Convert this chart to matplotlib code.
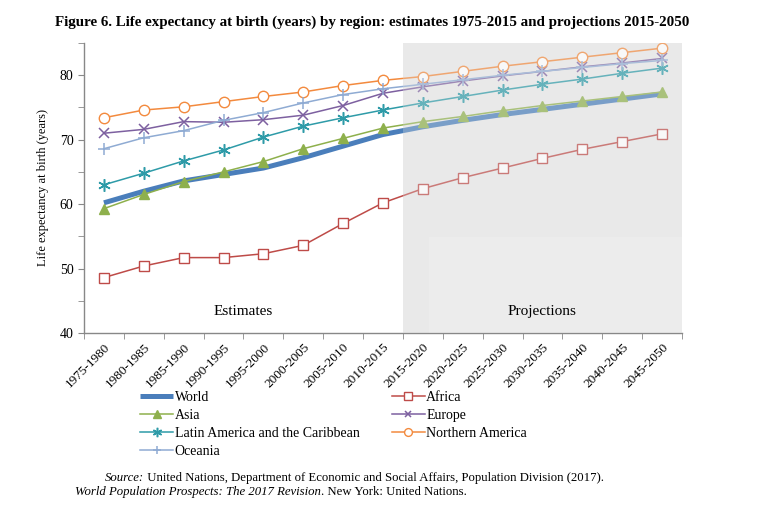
import numpy as np
import matplotlib
matplotlib.use("Agg")
import matplotlib.pyplot as plt
from matplotlib.patches import Rectangle

plt.rcParams['font.family'] = ['Liberation Serif', 'DejaVu Serif']

# periods (x categories)
periods = ["1975-1980", "1980-1985", "1985-1990", "1990-1995", "1995-2000",
           "2000-2005", "2005-2010", "2010-2015", "2015-2020", "2020-2025",
           "2025-2030", "2030-2035", "2035-2040", "2040-2045", "2045-2050"]

# life expectancy at birth (years)
world = [60.2, 62.0, 63.6, 64.6, 65.6, 67.2, 69.0, 70.8, 72.0, 73.0, 73.9, 74.7, 75.5, 76.3, 77.1]
africa = [48.6, 50.4, 51.7, 51.7, 52.3, 53.6, 57.0, 60.2, 62.4, 64.1, 65.6, 67.1, 68.5, 69.7, 70.9]
asia = [59.3, 61.5, 63.5, 65.0, 66.6, 68.6, 70.2, 71.8, 72.8, 73.6, 74.5, 75.3, 76.0, 76.7, 77.4]
europe = [71.0, 71.6, 72.8, 72.7, 73.1, 73.8, 75.3, 77.2, 78.2, 79.1, 79.9, 80.6, 81.3, 81.9, 82.6]
latam = [63.0, 64.8, 66.7, 68.4, 70.4, 72.1, 73.4, 74.6, 75.7, 76.7, 77.7, 78.6, 79.4, 80.3, 81.1]
n_america = [73.4, 74.6, 75.1, 75.9, 76.7, 77.4, 78.4, 79.2, 79.8, 80.6, 81.4, 82.1, 82.8, 83.5, 84.2]
oceania = [68.6, 70.3, 71.4, 73.0, 74.2, 75.7, 77.0, 77.9, 78.6, 79.3, 80.0, 80.6, 81.2, 81.8, 82.3]

n_estimates = 8  # first 8 periods are estimates

x = np.arange(len(periods))

fig = plt.figure(figsize=(7.58, 5.18), dpi=100)
ax = fig.add_axes([84/758, 1 - 333/518, (682 - 84)/758, (333 - 43)/518])

shade = "#E9E9E9"
# projections background
ax.add_patch(Rectangle((n_estimates - 0.5, 40), len(periods) - n_estimates, 45,
                       facecolor=shade, edgecolor="none", zorder=0))
ax.add_patch(Rectangle((n_estimates - 0.5 + 0.65, 40), len(periods) - n_estimates - 0.65, 14.9,
                       facecolor="#EEEEEE", edgecolor="none", zorder=0.5))

ax.plot(x, world, color="#4A7EBB", lw=3.6, label="World", zorder=3,
        solid_capstyle="butt")
ax.plot(x, africa, color="#BE4B48", lw=1.1, marker="s", ms=7, mfc="white",
        mec="#BE4B48", mew=1.0, label="Africa", zorder=3)
ax.plot(x, asia, color="#8EB04C", lw=1.1, marker="^", ms=7.5, mfc="#8EB04C",
        mec="#8EB04C", label="Asia", zorder=3)
ax.plot(x, europe, color="#7D60A0", lw=1.1, marker="x", ms=6.5, mew=1.1,
        label="Europe", zorder=3)
ax.plot(x, latam, color="#2E9BA8", lw=1.1, marker=(6, 2, 0), ms=9, mew=1.1,
        label="Latin America and the Caribbean", zorder=3)
ax.plot(x, n_america, color="#F38A3E", lw=1.1, marker="o", ms=7.5, mfc="white",
        mec="#F38A3E", mew=1.0, label="Northern America", zorder=3)
ax.plot(x, oceania, color="#8FABD3", lw=1.1, marker="+", ms=8, mew=1.1,
        label="Oceania", zorder=3)

# translucent veil over the projected part
ax.add_patch(Rectangle((n_estimates - 0.5, 40), len(periods) - n_estimates, 45,
                       facecolor=shade, edgecolor="none", alpha=0.3, zorder=4))

ax.text(3.5, 43.3, "Estimates", ha="center", va="center", fontsize=11, zorder=5)
ax.text(11.0, 43.3, "Projections", ha="center", va="center", fontsize=11, zorder=5)

ax.set_xlim(-0.5, len(periods) - 0.5)
ax.set_ylim(40, 85)
ax.set_yticks([40, 50, 60, 70, 80])
ax.set_yticks([45, 55, 65, 75, 85], minor=True)
ax.set_xticks(x)
ax.set_xticklabels(periods, rotation=45, ha="right", rotation_mode="anchor", fontsize=9.5)
ax.set_xticks(np.arange(-0.5, len(periods)), minor=True)
ax.tick_params(axis="x", which="major", length=0, pad=6)
ax.tick_params(axis="x", which="minor", length=4, color="#888888", direction="out")
ax.tick_params(axis="y", which="both", length=4, color="#888888", direction="out",
               labelsize=10)
for s in ["top", "right"]:
    ax.spines[s].set_visible(False)
for s in ["left", "bottom"]:
    ax.spines[s].set_color("#888888")
    ax.spines[s].set_linewidth(1.0)
ax.set_ylabel("Life expectancy at birth (years)", fontsize=9, labelpad=8)

fig.text(372/758, 1 - 22/518,
         "Figure 6. Life expectancy at birth (years) by region: estimates 1975-2015 and projections 2015-2050",
         ha="center", va="center", fontsize=10.8, fontweight="bold")

h, l = ax.get_legend_handles_labels()
order = ["World", "Asia", "Latin America and the Caribbean", "Oceania",
         "Africa", "Europe", "Northern America"]
hd = dict(zip(l, h))
fig.legend([hd[k] for k in order], order, ncol=2, loc="upper left",
           bbox_to_anchor=(140/758, 1 - 391/518), frameon=False, fontsize=10,
           handlelength=2.4, handletextpad=0.1, labelspacing=0.35,
           columnspacing=2.3, borderpad=0, borderaxespad=0, markerscale=0.75)

# source note, mixing italic and upright pieces
renderer = fig.canvas.get_renderer()


def write_line(x0, y0, pieces):
    xp = x0
    for txt, style in pieces:
        t = fig.text(xp, y0, txt, fontsize=9.2, style=style, ha="left", va="center")
        bb = t.get_window_extent(renderer=renderer)
        xp += bb.width / fig.bbox.width


write_line(105/758, 1 - 478/518,
           [("Source:", "italic"),
            (" United Nations, Department of Economic and Social Affairs, Population Division (2017).", "normal")])
write_line(75/758, 1 - 492/518,
           [("World Population Prospects: The 2017 Revision", "italic"),
            (". New York: United Nations.", "normal")])

fig.savefig("out.png", dpi=100)
